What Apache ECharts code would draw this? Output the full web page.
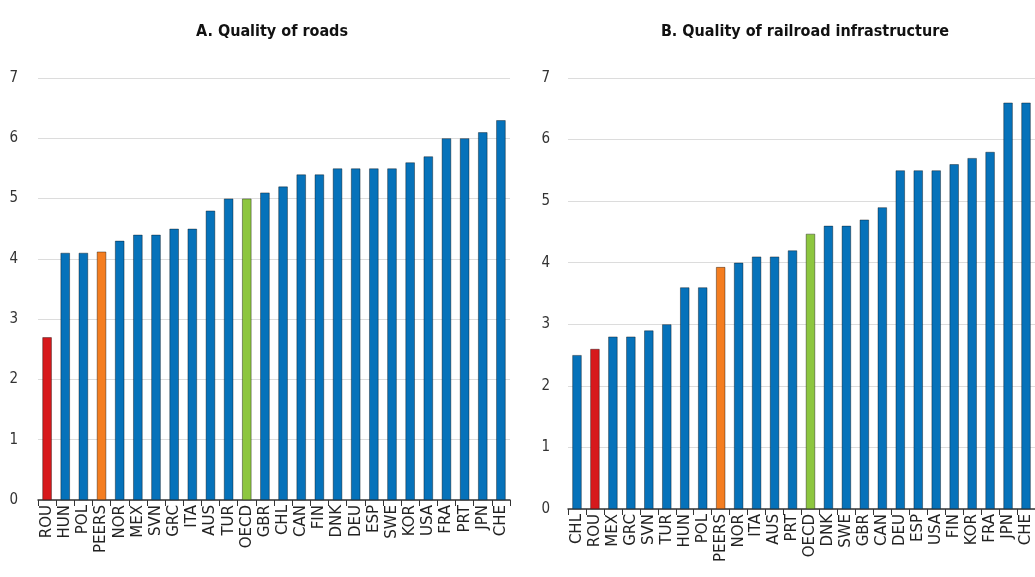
<!DOCTYPE html>
<html><head><meta charset="utf-8">
<script src="https://cdn.jsdelivr.net/npm/echarts@6/dist/echarts.min.js"></script>
<style>html,body{margin:0;padding:0;background:#fff}#c{width:1035px;height:577px}</style>
</head><body><div id="c"></div>
<script>
const roadCats = ['ROU','HUN','POL','PEERS','NOR','MEX','SVN','GRC','ITA','AUS','TUR','OECD','GBR','CHL','CAN','FIN','DNK','DEU','ESP','SWE','KOR','USA','FRA','PRT','JPN','CHE'];
const roadVals = [2.7,4.1,4.1,4.12,4.3,4.4,4.4,4.5,4.5,4.8,5.0,5.0,5.1,5.2,5.4,5.4,5.5,5.5,5.5,5.5,5.6,5.7,6.0,6.0,6.1,6.3];
const railCats = ['CHL','ROU','MEX','GRC','SVN','TUR','HUN','POL','PEERS','NOR','ITA','AUS','PRT','OECD','DNK','SWE','GBR','CAN','DEU','ESP','USA','FIN','KOR','FRA','JPN','CHE'];
const railVals = [2.5,2.6,2.8,2.8,2.9,3.0,3.6,3.6,3.93,4.0,4.1,4.1,4.2,4.47,4.6,4.6,4.7,4.9,5.5,5.5,5.5,5.6,5.7,5.8,6.6,6.6];
const yTicks = [0,1,2,3,4,5,6,7];

const COLORS = {ROU:'#D7191C', PEERS:'#F47D20', OECD:'#8DC63F'};
const BLUE = '#0672BA';
function barData(cats, vals){
  return vals.map((v,i)=>({value:v, itemStyle:{color: COLORS[cats[i]] || BLUE}}));
}
const condFont = '"DejaVu Sans Condensed","Liberation Sans",Arial,sans-serif';
function xAxis(cats, gi){
  return {type:'category', gridIndex:gi, data:cats,
    axisLine:{lineStyle:{color:'#333', width:1.5}},
    axisTick:{show:true, length:6, lineStyle:{color:'#333'}},
    axisLabel:{rotate:90, color:'#222', fontSize:15, fontFamily:'"DejaVu Sans",sans-serif', margin:5, interval:0}};
}
function yAxis(gi, margin){
  return {type:'value', gridIndex:gi, min:0, max:7, interval:1,
    axisLine:{show:false}, axisTick:{show:false},
    axisLabel:{color:'#333', fontSize:15, fontFamily:condFont, margin:margin, formatter:v=>yTicks.includes(v)?String(v):''},
    splitLine:{lineStyle:{color:'#dcdcdc', width:1.2}}};
}
const chart = echarts.init(document.getElementById('c'));
chart.setOption({
  animation:false,
  title:[
    {text:'A. Quality of roads', left:267, top:19, textAlign:'center', textStyle:{fontSize:16, fontWeight:'bold', color:'#111', fontFamily:condFont}},
    {text:'B. Quality of railroad infrastructure', left:800, top:19, textAlign:'center', textStyle:{fontSize:16, fontWeight:'bold', color:'#111', fontFamily:condFont}}
  ],
  grid:[
    {left:38, right:525, top:78, bottom:77},
    {left:568, right:-1, top:78, bottom:68}
  ],
  xAxis:[xAxis(roadCats,0), xAxis(railCats,1)],
  yAxis:[yAxis(0,20), yAxis(1,18)],
  series:[
    {type:'bar', xAxisIndex:0, yAxisIndex:0, data:barData(roadCats, roadVals), barWidth:'52%', itemStyle:{borderColor:'rgba(0,0,0,0.55)', borderWidth:0.7}},
    {type:'bar', xAxisIndex:1, yAxisIndex:1, data:barData(railCats, railVals), barWidth:'52%', itemStyle:{borderColor:'rgba(0,0,0,0.55)', borderWidth:0.7}}
  ]
});
</script></body></html>
